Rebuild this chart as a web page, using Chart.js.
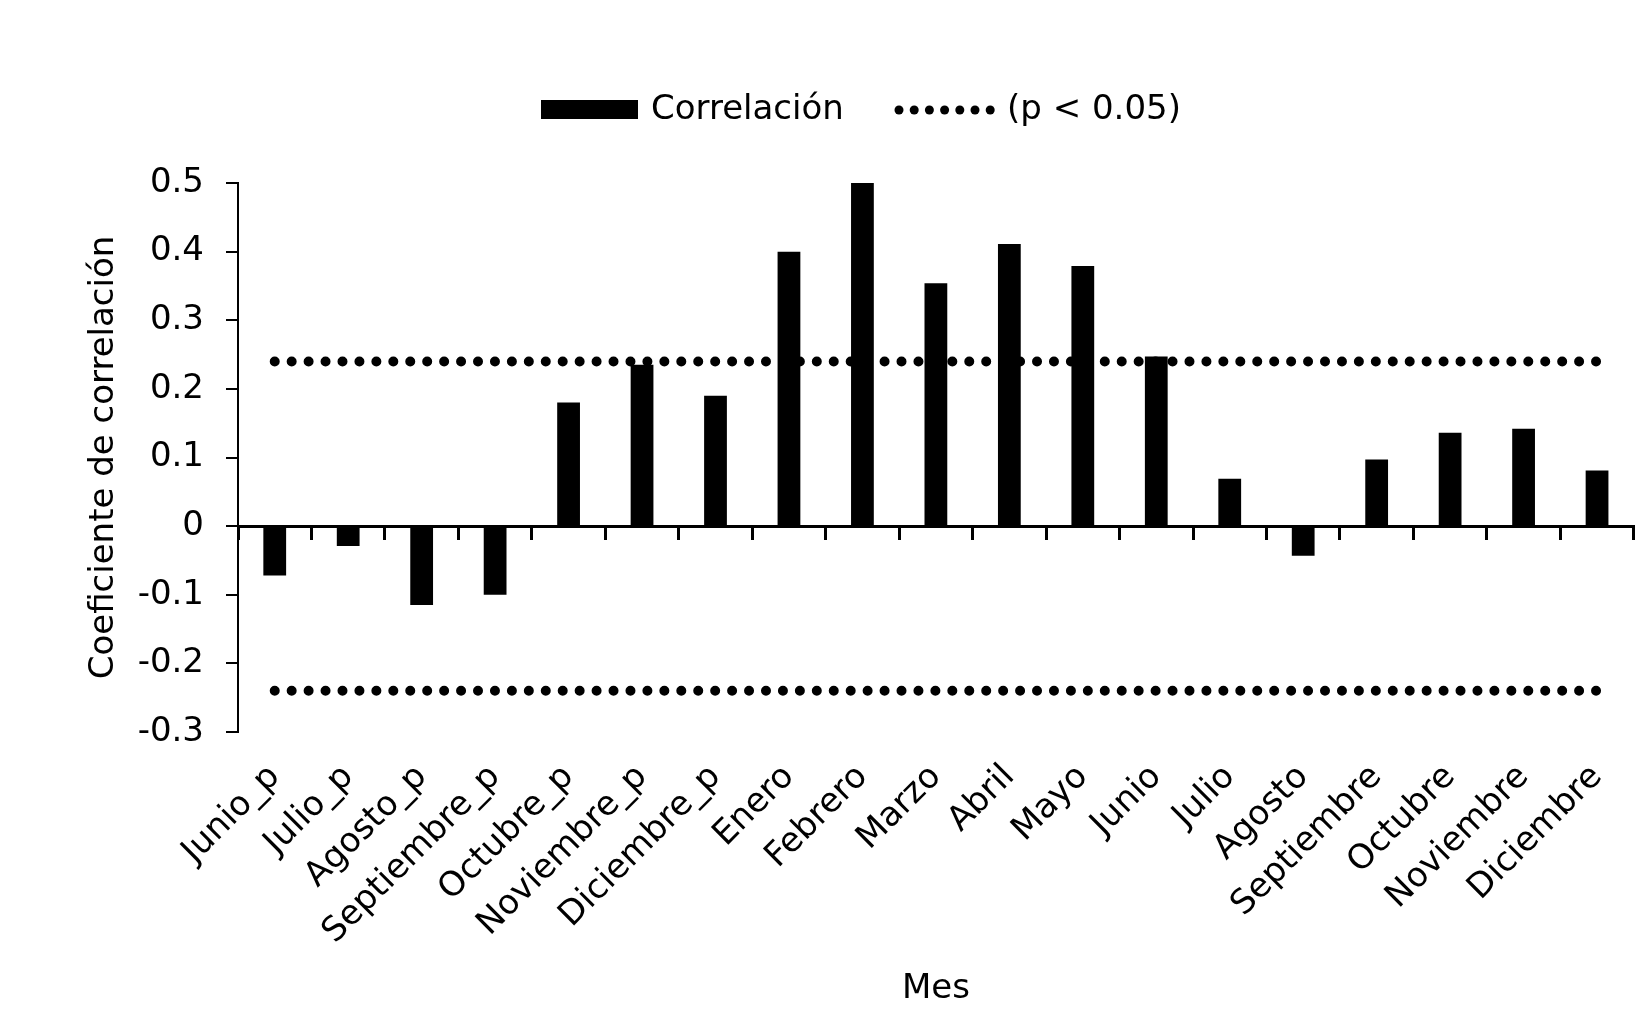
<!DOCTYPE html>
<html>
<head>
<meta charset="utf-8">
<script src="https://cdn.jsdelivr.net/npm/chart.js@4/dist/chart.umd.min.js"></script>
<style>
  html, body { margin: 0; padding: 0; background: #fff; }
  #wrap { width: 1651px; height: 1036px; }
</style>
</head>
<body>
<div id="wrap"><canvas id="c" width="1651" height="1036"></canvas></div>
<script>
const categories = ["Junio_p", "Julio_p", "Agosto_p", "Septiembre_p", "Octubre_p", "Noviembre_p", "Diciembre_p",
  "Enero", "Febrero", "Marzo", "Abril", "Mayo", "Junio", "Julio", "Agosto", "Septiembre", "Octubre", "Noviembre", "Diciembre"];
const correlationValues = [-0.072, -0.029, -0.115, -0.10, 0.18, 0.235, 0.19,
  0.40, 0.50, 0.354, 0.411, 0.379, 0.247, 0.069, -0.043, 0.097, 0.136, 0.142, 0.081];
const upperThreshold = [0.24, 0.24, 0.24, 0.24, 0.24, 0.24, 0.24, 0.24, 0.24, 0.24, 0.24, 0.24, 0.24, 0.24, 0.24, 0.24, 0.24, 0.24, 0.24];
const lowerThreshold = [-0.24, -0.24, -0.24, -0.24, -0.24, -0.24, -0.24, -0.24, -0.24, -0.24, -0.24, -0.24, -0.24, -0.24, -0.24, -0.24, -0.24, -0.24, -0.24];
const yMin = -0.3, yMax = 0.5, yStep = 0.1;

const FONT = 'DejaVu Sans, Verdana, sans-serif';
Chart.defaults.color = '#000';
Chart.defaults.font.family = FONT;

// dot spacing fitted so that a dot falls at both ends of each threshold line
function fittedDash(ctx) {
  const xs = ctx.chart.scales.x;
  if (!xs) return [0, 17];
  const span = xs.getPixelForValue(categories.length - 1) - xs.getPixelForValue(0);
  if (!(span > 0)) return [0, 17];
  const n = Math.round(span / 17);
  return [0, (span - 1) / n];
}

const legendPlugin = {
  id: 'customLegend',
  afterDraw(chart) {
    const ctx = chart.ctx;
    const ds = chart.data.datasets;
    const barDs = ds.find(d => d.type === 'bar');
    const lineDs = ds.find(d => d.type === 'line');
    ctx.save();
    ctx.font = '34px ' + FONT;
    ctx.textBaseline = 'middle';
    const cy = 110;
    ctx.fillStyle = barDs.backgroundColor;
    ctx.fillRect(541, 100, 97, 19);
    ctx.fillStyle = '#000';
    ctx.fillText(barDs.label, 651, cy);
    ctx.fillStyle = lineDs.borderColor;
    for (let i = 0; i < 7; i++) {
      ctx.beginPath();
      ctx.arc(899 + i * 15.2, cy, 4.5, 0, Math.PI * 2);
      ctx.fill();
    }
    ctx.fillStyle = '#000';
    ctx.fillText(lineDs.label, 1007, cy);
    ctx.restore();
  }
};

new Chart(document.getElementById('c'), {
  data: {
    labels: categories,
    datasets: [
      {
        type: 'line', label: '(p < 0.05)', data: upperThreshold, order: 1,
        borderColor: '#000', borderWidth: 10, borderDash: fittedDash, borderCapStyle: 'round',
        pointRadius: 0, fill: false
      },
      {
        type: 'line', label: '(p < 0.05)', data: lowerThreshold, order: 1,
        borderColor: '#000', borderWidth: 10, borderDash: fittedDash, borderCapStyle: 'round',
        pointRadius: 0, fill: false
      },
      {
        type: 'bar', label: 'Correlación', data: correlationValues, order: 2,
        backgroundColor: '#000', borderWidth: 0,
        categoryPercentage: 1.0, barPercentage: 0.31
      }
    ]
  },
  options: {
    responsive: false,
    animation: false,
    devicePixelRatio: 1,
    layout: { padding: { top: 183, right: 4, left: 0, bottom: 0 } },
    plugins: { legend: { display: false }, tooltip: { enabled: false } },
    scales: {
      x: {
        type: 'category',
        position: 'bottom',
        grid: { display: false, drawTicks: false },
        border: { display: false },
        ticks: { autoSkip: false, minRotation: 45, maxRotation: 45, padding: 25, font: { size: 34 }, color: '#000' },
        title: { display: true, text: 'Mes', font: { size: 34 }, color: '#000', padding: { top: 0, bottom: 26 } },
        afterFit(scale) { scale.height = 304; }
      },
      x2: {
        type: 'category',
        labels: categories,
        position: { y: 0 },
        offset: true,
        grid: { offset: true, drawOnChartArea: false, drawTicks: true, tickLength: 12, lineWidth: 3, color: '#000' },
        border: { display: true, color: '#000', width: 3 },
        ticks: { display: false }
      },
      y: {
        min: yMin, max: yMax,
        position: 'left',
        grid: { drawOnChartArea: false, drawTicks: true, tickLength: 12, lineWidth: 2, color: '#000' },
        border: { display: true, color: '#000', width: 2 },
        ticks: { stepSize: yStep, padding: 22, font: { size: 34 }, color: '#000' },
        title: { display: true, text: 'Coeficiente de correlación', font: { size: 34 }, color: '#000', padding: { top: 84, bottom: 0 } },
        afterFit(scale) { scale.width = 238; }
      }
    }
  },
  plugins: [legendPlugin]
});
</script>
</body>
</html>
